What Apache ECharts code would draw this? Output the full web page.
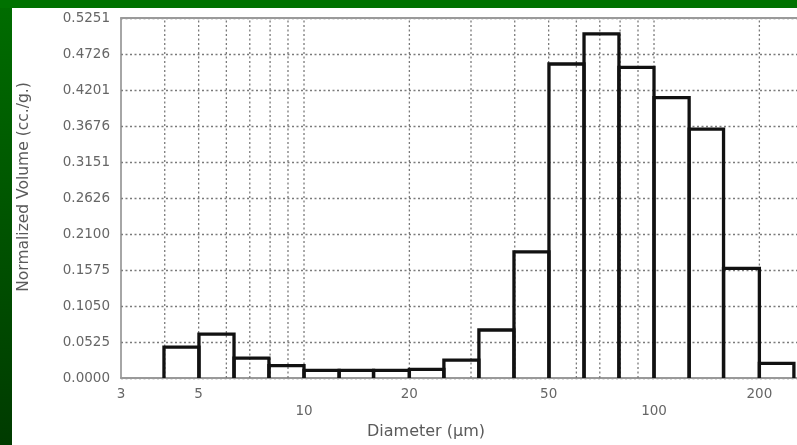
<!DOCTYPE html>
<html>
<head>
<meta charset="utf-8">
<script src="https://cdn.jsdelivr.net/npm/echarts@6/dist/echarts.min.js"></script>
<style>
  html, body { margin: 0; padding: 0; width: 797px; height: 445px; overflow: hidden; }
  body { background: #007200; position: relative; }
  #side { position: absolute; left: 0; top: 8px; width: 12px; height: 437px;
          background: linear-gradient(#006c00, #003b00); }
  #main { position: absolute; left: 12px; top: 8px; width: 785px; height: 437px; background: #fff; overflow: hidden; }
</style>
</head>
<body>
<div id="side"></div>
<div id="main"></div>
<script>
// bin edges of the histogram (µm) and the volume in each bin
var binEdges = [3.98, 5.01, 6.31, 7.94, 10.0, 12.6, 15.8, 20.0, 25.1, 31.6, 39.8,
                50.1, 63.1, 79.4, 100, 126, 158, 200, 251];
var volumes = [0.045, 0.064, 0.029, 0.018, 0.011, 0.011, 0.011, 0.0125, 0.026,
               0.070, 0.184, 0.458, 0.502, 0.453, 0.409, 0.363, 0.160, 0.0214];

// vertical grid positions and x tick labels
var gridX = [4, 5, 6, 7, 8, 9, 10, 20, 30, 40, 50, 60, 70, 80, 90, 100, 200];
var xTicks = [3, 5, 10, 20, 50, 100, 200];
var xTicksLow = [10, 100];

// y tick labels
var yStep = 0.05251;
var yMax = 0.5251;
var yTickLabels = ['0.0000', '0.0525', '0.1050', '0.1575', '0.2100', '0.2626',
                   '0.3151', '0.3676', '0.4201', '0.4726', '0.5251'];

var FONT = 'DejaVu Sans';

var barData = volumes.map(function (v, i) {
    return [binEdges[i], binEdges[i + 1], v];
});

var myChart = echarts.init(document.getElementById('main'));

var option = {
    animation: false,
    grid: { left: 109, top: 10, right: -4, bottom: 67, outerBoundsMode: 'none', containLabel: false },
    xAxis: [{
        type: 'log',
        logBase: 10,
        min: 3,
        max: 263,
        name: 'Diameter (µm)',
        nameLocation: 'middle',
        nameGap: 46,
        nameTextStyle: { fontFamily: FONT, fontSize: 16, color: '#5a5a5a', padding: [0, 70, 0, 0] },
        axisLine: { show: true, lineStyle: { color: '#999', width: 2 } },
        axisTick: { show: false },
        axisLabel: { show: false },
        splitLine: { show: false },
        minorTick: { show: false }
    }, {
        // top frame line only
        type: 'log',
        logBase: 10,
        min: 3,
        max: 263,
        position: 'top',
        axisLine: { show: true, lineStyle: { color: '#9a9a9a', width: 2 } },
        axisTick: { show: false },
        axisLabel: { show: false },
        splitLine: { show: false }
    }],
    yAxis: {
        type: 'value',
        min: 0,
        max: yMax,
        interval: yStep,
        name: 'Normalized Volume (cc./g.)',
        nameLocation: 'middle',
        nameGap: 89,
        nameTextStyle: { fontFamily: FONT, fontSize: 15.5, color: '#5a5a5a', padding: [0, 0, 0, 22] },
        axisLine: { show: true, lineStyle: { color: '#888', width: 1.5 } },
        axisTick: { show: false },
        axisLabel: {
            margin: 11,
            fontFamily: FONT,
            fontSize: 13.5,
            color: '#666',
            formatter: function (val) {
                return yTickLabels[Math.round(val / yStep)];
            }
        },
        splitLine: { show: true, lineStyle: { color: '#7a7a7a', width: 1.3, type: [2, 2.5] } }
    },
    series: [{
        // vertical dotted grid lines
        type: 'custom',
        silent: true,
        data: gridX,
        encode: { x: 0 },
        renderItem: function (params, api) {
            var x = api.value(0);
            var a = api.coord([x, 0]);
            var b = api.coord([x, yMax]);
            return {
                type: 'line',
                shape: { x1: a[0], y1: a[1], x2: b[0], y2: b[1] },
                style: { stroke: '#7a7a7a', lineWidth: 1.3, lineDash: [2, 2.5] }
            };
        }
    }, {
        // histogram bars, outline only
        type: 'custom',
        data: barData,
        encode: { x: [0, 1], y: 2 },
        renderItem: function (params, api) {
            var p0 = api.coord([api.value(0), 0]);
            var p1 = api.coord([api.value(1), api.value(2)]);
            return {
                type: 'polyline',
                shape: { points: [[p0[0], p0[1]], [p0[0], p1[1]], [p1[0], p1[1]], [p1[0], p0[1]]] },
                style: { stroke: '#111', lineWidth: 3.3, fill: null, lineJoin: 'miter' }
            };
        }
    }, {
        // x tick labels on the log scale, staggered
        type: 'custom',
        silent: true,
        clip: false,
        data: xTicks,
        encode: { x: 0 },
        renderItem: function (params, api) {
            var x = api.value(0);
            var p = api.coord([x, 0]);
            var low = xTicksLow.indexOf(x) >= 0;
            return {
                type: 'text',
                x: p[0],
                y: p[1] + (low ? 33 : 16),
                style: {
                    text: String(x),
                    align: 'center',
                    verticalAlign: 'middle',
                    fontFamily: FONT,
                    fontSize: 13.5,
                    fill: '#666'
                }
            };
        }
    }]
};

myChart.setOption(option);
</script>
</body>
</html>
